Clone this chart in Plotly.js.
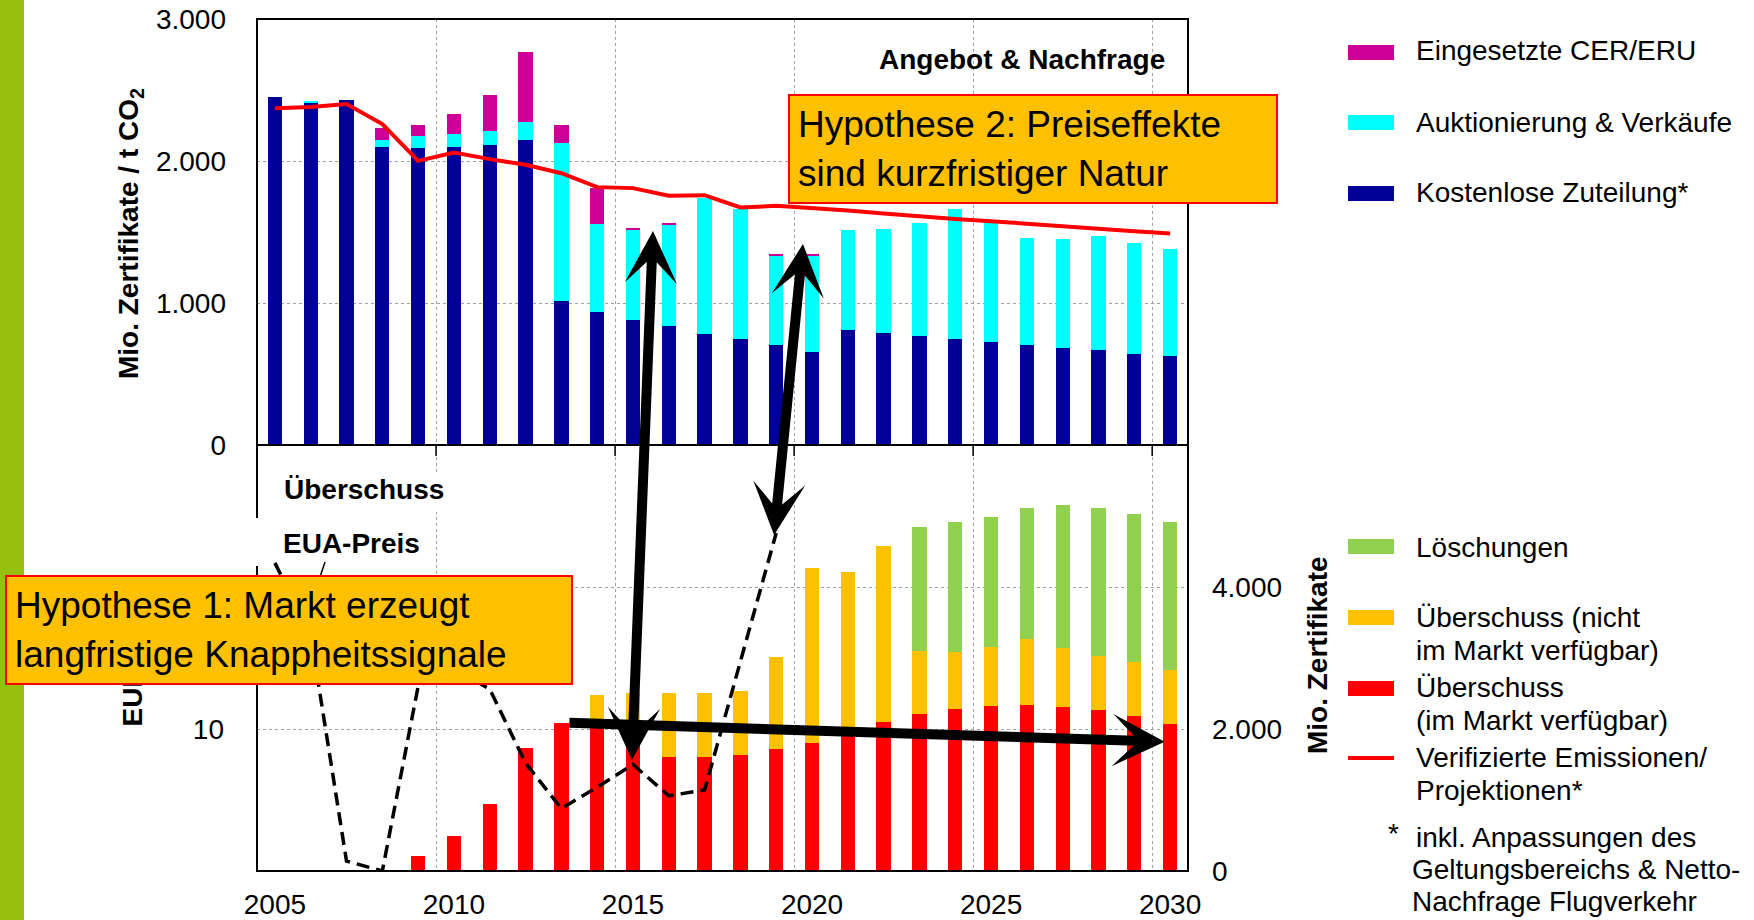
<!DOCTYPE html>
<html>
<head>
<meta charset="utf-8">
<script src="https://cdn.plot.ly/plotly-3.0.1.min.js"></script>
<style>html,body{margin:0;padding:0;background:#fff;}#chart{width:1754px;height:920px;}</style>
</head>
<body>
<div id="chart"></div>
<script>
// ---------------- DATA ----------------
const years = [2005,2006,2007,2008,2009,2010,2011,2012,2013,2014,2015,2016,2017,2018,2019,2020,2021,2022,2023,2024,2025,2026,2027,2028,2029,2030];
const xTickYears = [2005,2010,2015,2020,2025,2030];
const xTickText = ['2005','2010','2015','2020','2025','2030'];
const gridYears = [2009.5,2014.5,2019.5,2024.5,2029.5];

// upper panel: Angebot & Nachfrage (Mio. Zertifikate)
const freeAllocation = [2450,2410,2430,2100,2090,2100,2115,2145,1012,937,878,836,785,745,707,658,810,789,768,745,728,707,686,667,644,625];
const auctioning     = [0,10,0,50,85,92,95,130,1112,618,637,714,951,916,625,674,703,731,796,920,834,754,763,804,780,752];
const cerEru         = [0,0,0,85,78,139,254,493,129,258,14,12,0,0,12,12,0,0,0,0,0,0,0,0,0,0];
const emissions      = [2372,2380,2401,2260,2001,2060,2013,1973,1914,1816,1809,1755,1759,1673,1684,1670,1651,1630,1609,1592,1576,1557,1539,1522,1506,1489];

// lower panel: Überschuss (Mio. Zertifikate) and EUA price (EUR)
const surplusAvailable    = [0,0,0,10,211,493,939,1737,2080,2075,1800,1610,1600,1633,1718,1798,1940,2102,2211,2286,2323,2337,2314,2267,2182,2070];
const surplusNotAvailable = [0,0,0,0,0,0,0,0,0,403,702,900,902,906,1300,2464,2266,2478,882,797,835,934,821,755,761,760];
const cancellations       = [0,0,0,0,0,0,0,0,0,0,0,0,0,0,0,0,0,0,1746,1831,1831,1835,2018,2084,2079,2080];
const euaPrice            = [21.7,16.6,0.7,0.0,13.0,14.3,12.8,7.6,4.4,5.9,7.5,5.3,5.7,14.8,23.8,null,null,null,null,null,null,null,null,null,null,null];

const upperTicks = [0,1000,2000,3000];
const upperTickText = ['0','1.000','2.000','3.000'];
const lowerTicks = [0,2000,4000];
const lowerTickText = ['0','2.000','4.000'];
const priceTicks = [10,20];
const priceTickText = ['10','20'];

// colours
const C_FREE = '#000099', C_AUCT = '#00FFFF', C_CER = '#CC0099';
const C_RED = '#FF0000', C_YEL = '#FFC000', C_GRN = '#92D050';
const FONT = 'Liberation Sans, Arial, sans-serif';

// ---------------- GEOMETRY HELPERS (layout only) ----------------
const L = 257, R = 1188, T = 19, B = 871;
const px = x => (x - L) / (R - L);
const py = y => (B - y) / (B - T);

// ---------------- TRACES ----------------
const BW = 0.4;
const traces = [
  {type:'bar', x:years, y:freeAllocation, xaxis:'x', yaxis:'y', width:BW, marker:{color:C_FREE, line:{width:0}}, name:'Kostenlose Zuteilung*'},
  {type:'bar', x:years, y:auctioning, xaxis:'x', yaxis:'y', width:BW, marker:{color:C_AUCT, line:{width:0}}, name:'Auktionierung & Verkäufe'},
  {type:'bar', x:years, y:cerEru, xaxis:'x', yaxis:'y', width:BW, marker:{color:C_CER, line:{width:0}}, name:'Eingesetzte CER/ERU'},
  {type:'scatter', mode:'lines', x:years, y:emissions, xaxis:'x', yaxis:'y', line:{color:C_RED, width:4}, name:'Verifizierte Emissionen/Projektionen*'},
  {type:'bar', x:years, y:surplusAvailable, xaxis:'x', yaxis:'y2', width:BW, marker:{color:C_RED, line:{width:0}}, name:'Überschuss (im Markt verfügbar)'},
  {type:'bar', x:years, y:surplusNotAvailable, xaxis:'x', yaxis:'y2', width:BW, marker:{color:C_YEL, line:{width:0}}, name:'Überschuss (nicht im Markt verfügbar)'},
  {type:'bar', x:years, y:cancellations, xaxis:'x', yaxis:'y2', width:BW, marker:{color:C_GRN, line:{width:0}}, name:'Löschungen'},
  {type:'scatter', mode:'lines', x:years, y:euaPrice, xaxis:'x', yaxis:'y3', connectgaps:false, line:{color:'#000000', width:3.5, dash:'13px,7px'}, name:'EUA-Preis'}
];

// ---------------- SHAPES ----------------
const shapes = [];
// green side stripe
shapes.push({type:'rect', xref:'paper', yref:'paper', x0:px(0), x1:px(24), y0:py(920), y1:py(0), fillcolor:'#97BF0D', line:{width:0}, layer:'below'});
// frame & divider
shapes.push({type:'rect', xref:'paper', yref:'paper', x0:0, x1:1, y0:0, y1:1, line:{color:'#000', width:2}, layer:'above'});
shapes.push({type:'line', xref:'paper', yref:'paper', x0:0, x1:1, y0:0.5, y1:0.5, line:{color:'#000', width:2}, layer:'above'});
// tick marks under the divider
gridYears.forEach(g => shapes.push({type:'line', xref:'x', yref:'paper', x0:g, x1:g, y0:0.5, y1:py(456), line:{color:'#000', width:1.5}, layer:'above'}));
// white label backgrounds
shapes.push({type:'rect', xref:'paper', yref:'paper', x0:px(250), x1:px(263), y0:py(566), y1:py(518), fillcolor:'#fff', line:{width:0}, layer:'above'});
shapes.push({type:'rect', xref:'paper', yref:'paper', x0:px(431), x1:px(443), y0:py(512), y1:py(473), fillcolor:'#fff', line:{width:0}, layer:'above'});
// leader line of the EUA-Preis label
shapes.push({type:'line', xref:'paper', yref:'paper', x0:px(325), x1:px(319), y0:py(562), y1:py(580), line:{color:'#000', width:1.5}, layer:'above'});

// custom legend swatches
const legendRects = [
  {c:C_CER, y0:45, y1:60}, {c:C_AUCT, y0:115, y1:130}, {c:C_FREE, y0:186, y1:201},
  {c:C_GRN, y0:539, y1:554}, {c:C_YEL, y0:610, y1:625}, {c:C_RED, y0:681, y1:696}
];
legendRects.forEach(r => shapes.push({type:'rect', xref:'paper', yref:'paper', x0:px(1348), x1:px(1394), y0:py(r.y1), y1:py(r.y0), fillcolor:r.c, line:{width:0}, layer:'above'}));
shapes.push({type:'line', xref:'paper', yref:'paper', x0:px(1348), x1:px(1394), y0:py(758), y1:py(758), line:{color:C_RED, width:4}, layer:'above'});

// ---------------- ANNOTATIONS ----------------
const ann = [];
function txt(text, x, y, opts) {
  ann.push(Object.assign({text:text, xref:'paper', yref:'paper', x:px(x), y:py(y), xanchor:'left', yanchor:'middle',
    showarrow:false, borderpad:0, font:{family:FONT, size:28, color:'#000'}}, opts || {}));
}
// axis titles
txt('<b>Mio. Zertifikate / t CO<sub>2</sub></b>', 130, 234, {xanchor:'center', textangle:-90});
txt('<b>Mio. Zertifikate</b>', 1317, 655, {xanchor:'center', textangle:-90});
txt('<b>EUR / t CO<sub>2</sub></b>', 134, 728, {xanchor:'center', yanchor:'bottom', textangle:-90});
// panel labels
txt('<b>Angebot &amp; Nachfrage</b>', 1166, 59, {xanchor:'right'});
txt('<b>Überschuss</b>', 283, 489);
txt('<b>EUA-Preis</b>', 282, 543);
// legend texts
txt('Eingesetzte CER/ERU', 1415, 51);
txt('Auktionierung &amp; Verkäufe', 1415, 122);
txt('Kostenlose Zuteilung*', 1415, 193);
txt('Löschungen', 1415, 547);
txt('Überschuss (nicht', 1415, 617);
txt('im Markt verfügbar)', 1415, 650);
txt('Überschuss', 1415, 687);
txt('(im Markt verfügbar)', 1415, 720);
txt('Verifizierte Emissionen/', 1415, 757);
txt('Projektionen*', 1415, 790);
txt('*', 1393, 833, {xanchor:'center'});
txt('inkl. Anpassungen des', 1415, 837);
txt('Geltungsbereichs &amp; Netto-', 1411, 869);
txt('Nachfrage Flugverkehr', 1411, 902);

// arrows (data coordinates: years / Mio. Zertifikate on the lower axis)
function arrow(x, y, axv, ayv, both) {
  ann.push({text:' ', xref:'x', yref:'y2', axref:'x', ayref:'y2', x:x, y:y, ax:axv, ay:ayv,
    showarrow:true, arrowhead:3, startarrowhead:3, arrowside: both ? 'end+start' : 'end',
    arrowwidth:10, arrowsize:0.87, startarrowsize:0.87, arrowcolor:'#000', standoff:0, startstandoff:0,
    font:{size:1}, borderpad:0});
}
arrow(2014.97, 1563, 2015.56, 9028, true);
arrow(2018.94, 4733, 2019.75, 8845, true);
arrow(2029.85, 1821, 2013.21, 2087, false);

// hypothesis boxes
function box(text, x0, y0, x1, y1) {
  ann.push({text:text, xref:'paper', yref:'paper', x:px(x0), y:py(y0), xanchor:'left', yanchor:'top',
    showarrow:false, align:'left', valign:'middle', bgcolor:C_YEL, bordercolor:C_RED, borderwidth:2, borderpad:8,
    width:(x1 - x0) - 20, height:(y1 - y0) - 20, font:{family:FONT, size:37, color:'#000'}});
}
box('Hypothese 1: Markt erzeugt<br>langfristige Knappheitssignale', 5, 575, 573, 685);
box('Hypothese 2: Preiseffekte<br>sind kurzfristiger Natur', 788, 94, 1278, 204);

// ---------------- LAYOUT ----------------
const axFont = {family:FONT, size:28, color:'#000'};
const layout = {
  width:1754, height:920,
  margin:{l:L, r:1754 - R, t:T, b:920 - B, pad:0},
  paper_bgcolor:'#fff', plot_bgcolor:'#fff',
  barmode:'stack', showlegend:false, hovermode:false,
  font:{family:FONT, size:28, color:'#000'},
  xaxis:{domain:[0,1], anchor:'y2', range:[2004.5, 2030.5], tickmode:'array', tickvals:xTickYears, ticktext:xTickText,
    ticks:'', showgrid:false, zeroline:false, showline:false, tickfont:axFont, ticklabelstandoff:14,
    minor:{tickmode:'array', tickvals:gridYears, showgrid:true, gridcolor:'#a0a0a0', griddash:'dot', gridwidth:1, ticks:''}},
  yaxis:{domain:[0.5,1], anchor:'x', range:[0,3000], tickmode:'array', tickvals:upperTicks, ticktext:upperTickText,
    ticks:'', showgrid:true, gridcolor:'#a0a0a0', griddash:'dot', gridwidth:1, zeroline:false, showline:false,
    tickfont:axFont, ticklabelstandoff:30},
  yaxis2:{domain:[0,0.5], anchor:'x', side:'right', range:[0,6000], tickmode:'array', tickvals:lowerTicks, ticktext:lowerTickText,
    ticks:'', showgrid:true, gridcolor:'#a0a0a0', griddash:'dot', gridwidth:1, zeroline:false, showline:false,
    tickfont:axFont, ticklabelstandoff:23},
  yaxis3:{overlaying:'y2', anchor:'x', side:'left', range:[0,30], tickmode:'array', tickvals:priceTicks, ticktext:priceTickText,
    ticks:'', showgrid:false, zeroline:false, showline:false, tickfont:axFont, ticklabelstandoff:32},
  shapes:shapes,
  annotations:ann
};

Plotly.newPlot('chart', traces, layout, {staticPlot:true, displayModeBar:false});
</script>
</body>
</html>
